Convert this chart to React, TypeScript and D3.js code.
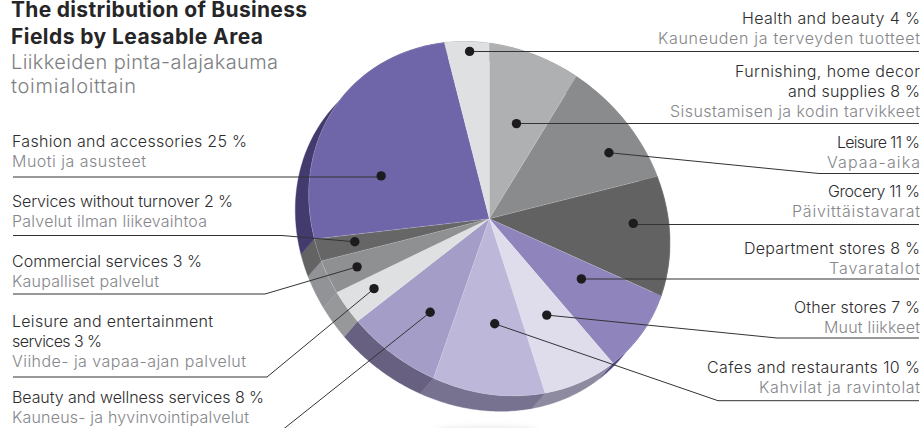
import React from "react";
import * as d3 from "d3";

const WIDTH = 923;
const HEIGHT = 428;

// Leasable-area shares, clockwise from twelve o'clock.
const sliceNames = [
  "Furnishing", "Leisure", "Grocery", "Department", "Other", "Cafes",
  "Beauty", "Entertainment", "Commercial", "Services", "Fashion", "Health",
];
const sliceValues = [8, 11, 11, 8, 7, 10, 8, 3, 3, 2, 25, 4];
const faceColors = [
  "#afb0b2", "#8a8b8d", "#626263", "#8f84bc", "#dfddec", "#bdb8da",
  "#a39dc8", "#dfe0e2", "#8f9092", "#666667", "#6f66a9", "#dfe0e2",
];
const wallColors = [
  "#77787a", "#5d5e60", "#454546", "#4c4480", "#8e8ba0", "#777290",
  "#676080", "#96989a", "#929396", "#636364", "#433a6e", "#96989a",
];
// Where each callout dot sits: fraction along the slice's sweep, fraction of radius.
const dotSweep = [0.52, 0.657, 0.396, 0.354, 0.437, 0.42, 0.4, 0.546, 0.49, 0.58, 0.328, 0.54];
const dotRadius = [0.582, 0.81, 0.801, 0.578, 0.597, 0.595, 0.664, 0.802, 0.822, 0.78, 0.62, 0.944];

// Each text line carries its set width so the columns keep their measure.
type Line = [string, number];

const rightLabels: { slice: string; lines: Line[]; fi: Line; y: number; rule: number; from: number }[] = [
  { slice: "Health", lines: [["Health and beauty 4 %", 178]], fi: ["Kauneuden ja terveyden tuotteet", 262], y: 24, rule: 51.5, from: 470 },
  { slice: "Furnishing", lines: [["Furnishing, home decor", 185], ["and supplies 8 %", 132]], fi: ["Sisustamisen ja kodin tarvikkeet", 250], y: 77, rule: 123.5, from: 517 },
  { slice: "Leisure", lines: [["Leisure 11 %", 83]], fi: ["Vapaa-aika", 93], y: 148, rule: 173.5, from: 819 },
  { slice: "Grocery", lines: [["Grocery 11 %", 92]], fi: ["Päivittäistavarat", 128], y: 197, rule: 224.5, from: 633 },
  { slice: "Department", lines: [["Department stores 8 %", 176]], fi: ["Tavaratalot", 91], y: 254, rule: 279, from: 581 },
  { slice: "Other", lines: [["Other stores 7 %", 126]], fi: ["Muut liikkeet", 96], y: 313, rule: 338, from: 777 },
  { slice: "Cafes", lines: [["Cafes and restaurants 10 %", 213]], fi: ["Kahvilat ja ravintolat", 161], y: 373, rule: 400.7, from: 718 },
];
const leftLabels: { slice: string; lines: Line[]; fi: Line; y: number; rule: number; to: number }[] = [
  { slice: "Fashion", lines: [["Fashion and accessories 25 %", 235]], fi: ["Muoti ja asusteet", 134], y: 147, rule: 177, to: 381 },
  { slice: "Services", lines: [["Services without turnover 2 %", 221]], fi: ["Palvelut ilman liikevaihtoa", 195], y: 207, rule: 235.5, to: 282 },
  { slice: "Commercial", lines: [["Commercial services 3 %", 190]], fi: ["Kaupalliset palvelut", 147], y: 267, rule: 294, to: 265 },
  { slice: "Entertainment", lines: [["Leisure and entertainment", 201], ["services 3 %", 90]], fi: ["Viihde- ja vapaa-ajan palvelut", 234], y: 327, rule: 377, to: 267 },
  { slice: "Beauty", lines: [["Beauty and wellness services 8 %", 252]], fi: ["Kauneus- ja hyvinvointipalvelut", 237], y: 403, rule: 431, to: 281 },
];

const titleLines: Line[] = [["The distribution of Business", 296], ["Fields by Leasable Area", 252]];
const subtitleLines: Line[] = [["Liikkeiden pinta-alajakauma", 267], ["toimialoittain", 125]];

// The disc is a sheared circle, extruded down and to the left.
const CX = 489.3;
const CY = 218.7;
const R = 180;
const SX = 180.7 / R;
const SHEAR = 24.1 / R;
const SY = 175.6 / R;
const DEPTH_X = -13.3;
const DEPTH_Y = 15.3;

const project = (angle: number, r: number): [number, number] => {
  const fx = Math.sin(angle) * r;
  const fy = -Math.cos(angle) * r;
  return [CX + SX * fx, CY + SHEAR * fx + SY * fy];
};

const FONT = "Inter, 'Noto Sans', sans-serif";
const INK = "#2d2c2e";
const MUTED = "#85868a";
const RULE = "#333336";

export default function App() {
  const pie = d3.pie<number>().sort(null).value((d) => d);
  const arcs = pie(sliceValues);
  const arc = d3.arc<d3.PieArcDatum<number>>().innerRadius(0).outerRadius(R);
  const edge = d3.line();

  const wallPath = (a0: number, a1: number) => {
    const steps = d3.range(0, 41).map((i) => a0 + ((a1 - a0) * i) / 40);
    const rim = steps.map((a) => project(a, R));
    const base = rim.map(([x, y]): [number, number] => [x + DEPTH_X, y + DEPTH_Y]).reverse();
    return edge([...rim, ...base]) + "Z";
  };

  const dots = arcs.map((a, i) =>
    project(a.startAngle + (a.endAngle - a.startAngle) * dotSweep[i], R * dotRadius[i])
  );
  const dotFor = (name: string) => dots[sliceNames.indexOf(name)];

  return (
    <svg
      width={WIDTH}
      height={HEIGHT}
      viewBox={`0 0 ${WIDTH} ${HEIGHT}`}
      style={{ position: "absolute", left: 0, top: 0, display: "block", background: "#fff" }}
      fontFamily={FONT}
    >
      <defs>
        <filter id="floor" x="-50%" y="-200%" width="200%" height="500%">
          <feGaussianBlur stdDeviation="3" />
        </filter>
      </defs>
      <ellipse cx={487} cy={431} rx={52} ry={3.5} fill="#e2e2e4" filter="url(#floor)" />

      {arcs.map((a, i) => (
        <path key={`wall-${i}`} d={wallPath(a.startAngle, a.endAngle)} fill={wallColors[i]} stroke={wallColors[i]} strokeWidth={0.4} />
      ))}
      <g transform={`matrix(${SX} ${SHEAR} 0 ${SY} ${CX} ${CY})`}>
        {arcs.map((a, i) => (
          <path key={`face-${i}`} d={arc(a) ?? ""} fill={faceColors[i]} stroke="#ffffff" strokeOpacity={0.25} strokeWidth={0.5} />
        ))}
      </g>

      {rightLabels.map((l) => {
        const [dx, dy] = dotFor(l.slice);
        const pts: [number, number][] = [[dx, dy], [l.from, l.rule], [919, l.rule]];
        return <path key={l.slice} d={edge(pts) ?? ""} fill="none" stroke={RULE} strokeWidth={1} />;
      })}
      {leftLabels.map((l) => {
        const [dx, dy] = dotFor(l.slice);
        const pts: [number, number][] = [[dx, dy], [l.to, l.rule], [13, l.rule]];
        return <path key={l.slice} d={edge(pts) ?? ""} fill="none" stroke={RULE} strokeWidth={1} />;
      })}
      {dots.map(([x, y], i) => (
        <circle key={sliceNames[i]} cx={x} cy={y} r={4.7} fill="#1d1b1e" />
      ))}

      <g fontSize={21} fontWeight={700} fill="#262527">
        {titleLines.map(([t, w], i) => (
          <text key={t} x={11} y={17 + i * 27} textLength={w} lengthAdjust="spacing">{t}</text>
        ))}
      </g>
      <g fontSize={20} fontWeight={300} fill="#7d7e82">
        {subtitleLines.map(([t, w], i) => (
          <text key={t} x={11} y={69 + i * 23.5} textLength={w} lengthAdjust="spacing">{t}</text>
        ))}
      </g>

      <g fontSize={16} fontWeight={300}>
        {rightLabels.map((l) => (
          <g key={l.slice} textAnchor="end">
            {l.lines.map(([t, w], i) => (
              <text key={t} x={920} y={l.y + i * 20} fill={INK} textLength={w} lengthAdjust="spacing">{t}</text>
            ))}
            <text x={920} y={l.y + l.lines.length * 20} fill={MUTED} textLength={l.fi[1]} lengthAdjust="spacing">{l.fi[0]}</text>
          </g>
        ))}
        {leftLabels.map((l) => (
          <g key={l.slice}>
            {l.lines.map(([t, w], i) => (
              <text key={t} x={12} y={l.y + i * 20} fill={INK} textLength={w} lengthAdjust="spacing">{t}</text>
            ))}
            <text x={12} y={l.y + l.lines.length * 20} fill={MUTED} textLength={l.fi[1]} lengthAdjust="spacing">{l.fi[0]}</text>
          </g>
        ))}
      </g>
    </svg>
  );
}
